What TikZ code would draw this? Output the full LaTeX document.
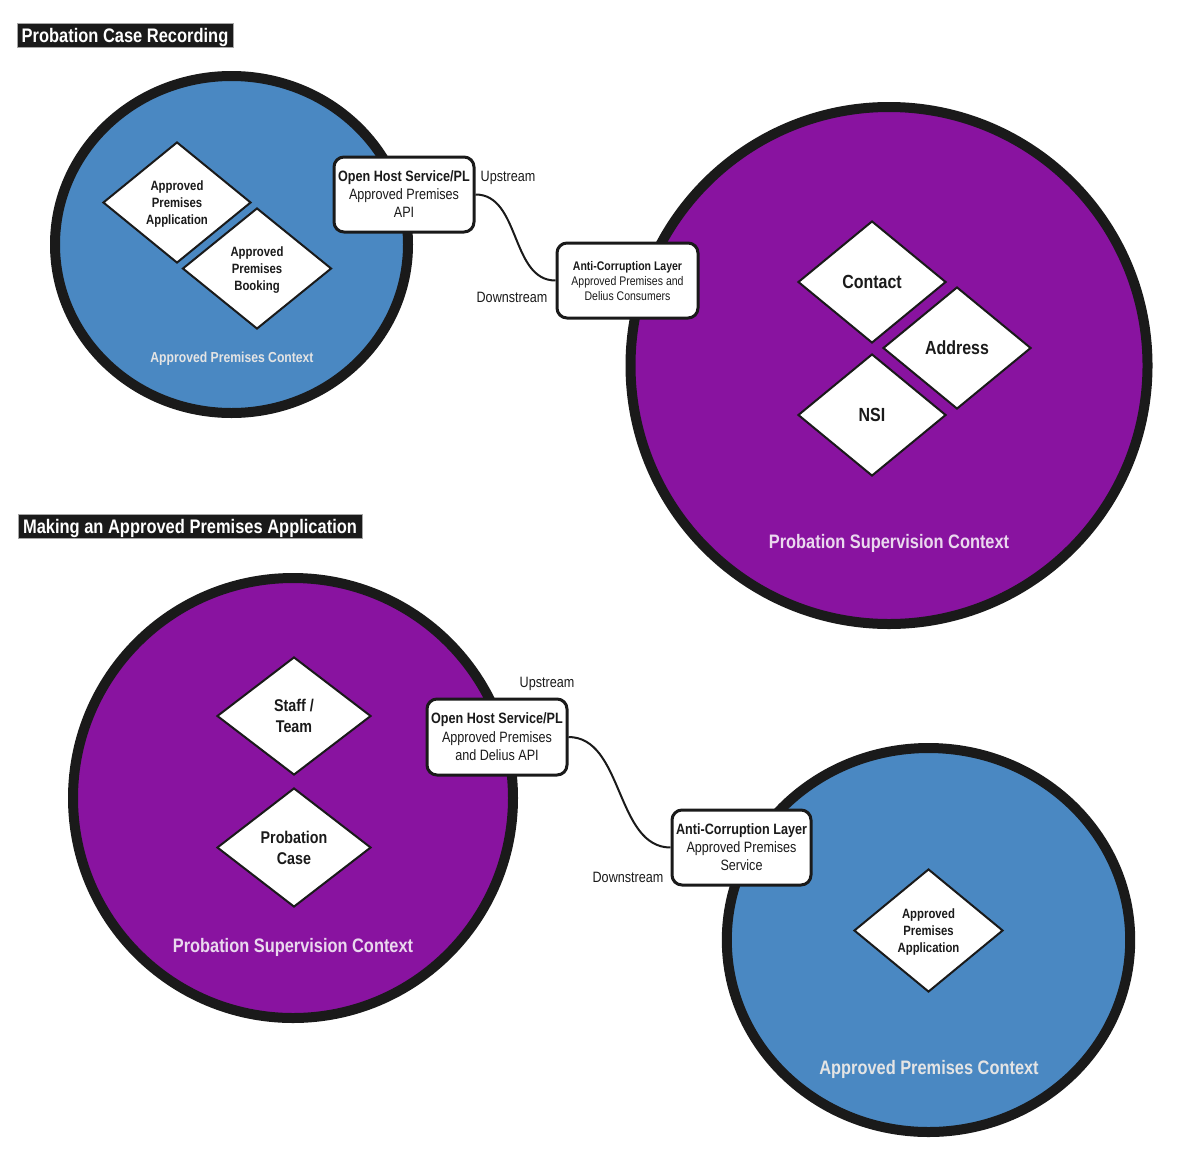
\documentclass[tikz,border=0pt]{standalone}
\usepackage{fontspec}
\setmainfont{Liberation Sans}[FakeStretch=0.84]
\usetikzlibrary{shapes.geometric}
\definecolor{blueC}{HTML}{4A88C2}
\definecolor{purpleC}{HTML}{8913A0}
\definecolor{inkC}{HTML}{1A1A1A}
\definecolor{lightC}{HTML}{E4E4E4}
\definecolor{pinkC}{HTML}{EAD8EE}
\tikzset{
  ctx/.style={line width=10pt, draw=inkC},
  entity/.style={shape=diamond, draw=inkC, fill=white, line width=2pt, inner sep=0pt, align=center, text=inkC, font=\bfseries, text depth=0pt},
  iface/.style={draw=inkC, fill=white, line width=3pt, rounded corners=10pt, inner sep=0pt, align=center, text=inkC, minimum width=140pt, minimum height=75pt, text depth=0pt},
  ctxlabel/.style={font=\bfseries\fontsize{19.5}{22}\selectfont, text depth=0pt},
  streamlabel/.style={text=inkC, font=\fontsize{15}{18}\selectfont, inner sep=0pt, text depth=0pt},
  titlebox/.style={fill=inkC, draw=gray!70, line width=0.8pt, text=white, font=\bfseries\fontsize{19.6}{22}\selectfont, inner sep=0pt, minimum height=24pt, text depth=0pt},
  link/.style={draw=inkC, line width=2pt}
}
\begin{document}
\begin{tikzpicture}[x=1pt, y=-1pt]
\useasboundingbox (0,0) rectangle (1182,1159);

% titles
\node[titlebox, minimum width=216pt] (t1) at (125,35) {Probation Case Recording};
\node[titlebox, minimum width=344pt] (t2) at (190,526) {Making an Approved Premises Application};

% context circles
\path[ctx, fill=blueC] (231.5,244.5) ellipse [x radius=176.5pt, y radius=168.5pt];
\path[ctx, fill=purpleC] (889,365.5) circle [radius=258.5pt];
\path[ctx, fill=purpleC] (293,798) circle [radius=220pt];
\path[ctx, fill=blueC] (928.5,940) ellipse [x radius=201.7pt, y radius=192pt];

% top-left context
\node[entity, minimum width=148pt, minimum height=121pt, font=\bfseries\fontsize{13.5}{16.7}\selectfont] (apa1) at (177,202.5) {Approved\\Premises\\Application};
\node[entity, minimum width=149pt, minimum height=121pt, font=\bfseries\fontsize{13.5}{16.7}\selectfont] (apb1) at (257,268.5) {Approved\\Premises\\Booking};
\node[ctxlabel, text=lightC, font=\bfseries\fontsize{14.5}{17}\selectfont] (apc1) at (232,357) {Approved Premises Context};

% top-right context
\node[entity, minimum width=148pt, minimum height=122pt, font=\bfseries\fontsize{19}{22}\selectfont] (contact) at (872,282) {Contact};
\node[entity, minimum width=148pt, minimum height=122pt, font=\bfseries\fontsize{19}{22}\selectfont] (address) at (957,348) {Address};
\node[entity, minimum width=148pt, minimum height=122pt, font=\bfseries\fontsize{19}{22}\selectfont] (nsi) at (872,415) {NSI};
\node[ctxlabel, text=pinkC] (psc1) at (889,541) {Probation Supervision Context};

% top interfaces
\node[iface, font=\fontsize{15}{18}\selectfont] (ohs1) at (404,194.5) {{\bfseries Open Host Service/PL}\\Approved Premises\\API};
\node[iface, minimum width=141pt, font=\fontsize{12.5}{15}\selectfont] (acl1) at (627.5,280.5) {{\bfseries Anti-Corruption Layer}\\Approved Premises and\\Delius Consumers};
\draw[link] (ohs1.east) .. controls +(45,0) and +(-45,0) .. (acl1.west);
\node[streamlabel] (up1) at (508,176) {Upstream};
\node[streamlabel] (down1) at (512,297) {Downstream};

% bottom-left context
\node[entity, minimum width=154pt, minimum height=118pt, font=\bfseries\fontsize{17}{21}\selectfont] (staff) at (294,716) {Staff /\\Team};
\node[entity, minimum width=154pt, minimum height=119pt, font=\bfseries\fontsize{17}{21}\selectfont] (pcase) at (294,847.5) {Probation\\Case};
\node[ctxlabel, text=pinkC] (psc2) at (293,945) {Probation Supervision Context};

% bottom-right context
\node[entity, minimum width=149pt, minimum height=123pt, font=\bfseries\fontsize{13.5}{17}\selectfont] (apa2) at (928.5,930.5) {Approved\\Premises\\Application};
\node[ctxlabel, text=lightC] (apc2) at (929,1067) {Approved Premises Context};

% bottom interfaces
\node[iface, minimum height=76pt, font=\fontsize{15}{18.5}\selectfont] (ohs2) at (497,737) {{\bfseries Open Host Service/PL}\\Approved Premises\\and Delius API};
\node[iface, minimum width=139pt, font=\fontsize{15}{18}\selectfont] (acl2) at (741.5,847.5) {{\bfseries Anti-Corruption Layer}\\Approved Premises\\Service};
\draw[link] (ohs2.east) .. controls +(55,0) and +(-55,0) .. (acl2.west);
\node[streamlabel] (up2) at (547,682) {Upstream};
\node[streamlabel] (down2) at (628,877) {Downstream};
\end{tikzpicture}
\end{document}
